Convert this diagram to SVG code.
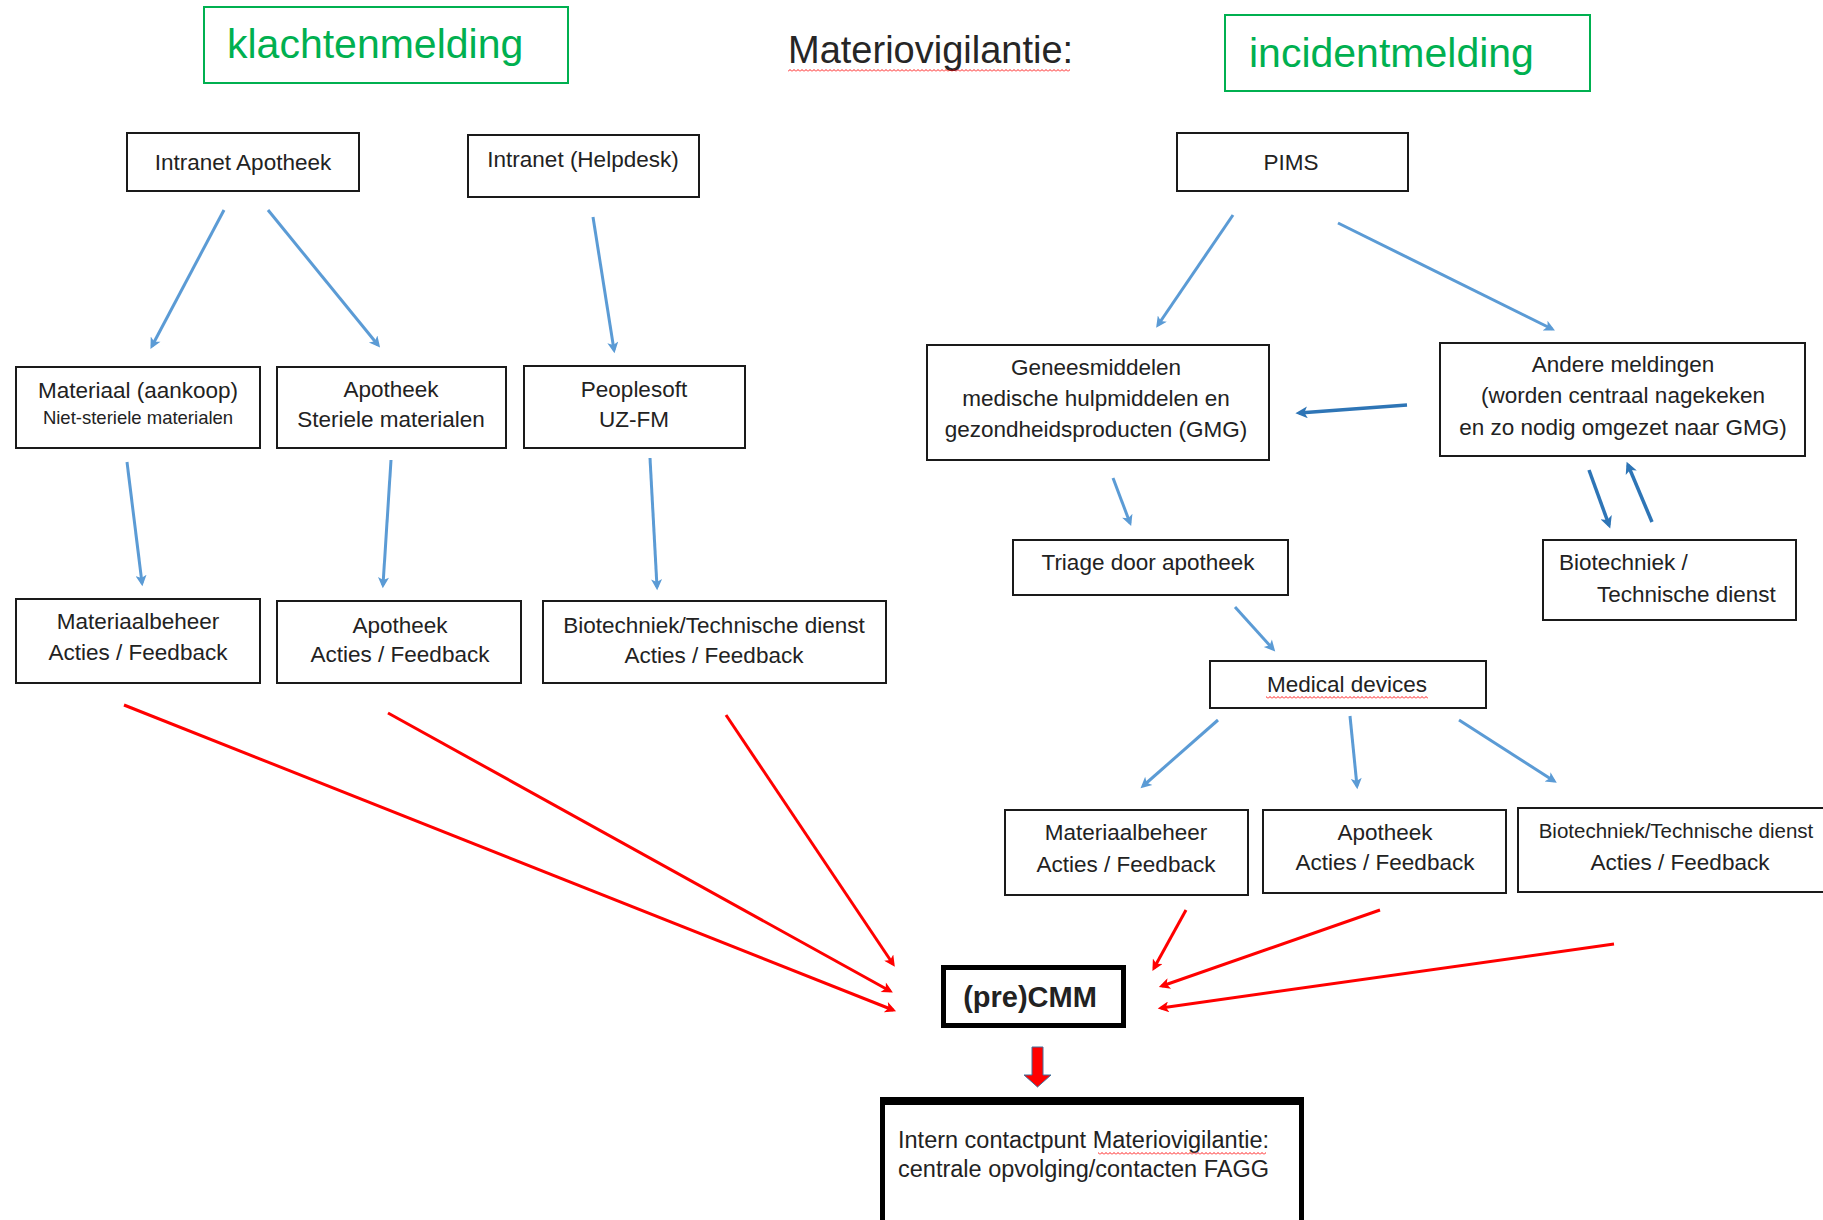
<svg xmlns="http://www.w3.org/2000/svg" width="1823" height="1220" viewBox="0 0 1823 1220">
<defs>
<style>
.box{fill:#fff;stroke:#1a1a1a;stroke-width:2}
.tag{fill:#fff;stroke:#00B050;stroke-width:2}
.t{font-family:"Liberation Sans",Arial,sans-serif;font-size:22.5px;fill:#222;text-anchor:middle}
.ts{font-size:18.5px}
.tl{text-anchor:start}
.tg{font-family:"Liberation Sans",Arial,sans-serif;font-size:41px;fill:#00B050}
.b1{fill:none;stroke:#5B9BD5;stroke-width:3}
.b2{fill:none;stroke:#2E75B6;stroke-width:3.5}
.r{fill:none;stroke:#FF0000;stroke-width:3}
</style>
<marker id="ab1" viewBox="0 0 10 10" refX="7" refY="5" markerWidth="13" markerHeight="11" markerUnits="userSpaceOnUse" orient="auto"><path d="M0,0 L10,5 L0,10 L2.5,5 z" fill="#5B9BD5"/></marker>
<marker id="ab2" viewBox="0 0 10 10" refX="7" refY="5" markerWidth="14" markerHeight="12" markerUnits="userSpaceOnUse" orient="auto"><path d="M0,0 L10,5 L0,10 L2.5,5 z" fill="#2E75B6"/></marker>
<marker id="ar" viewBox="0 0 10 10" refX="7" refY="5" markerWidth="14" markerHeight="11" markerUnits="userSpaceOnUse" orient="auto"><path d="M0,0 L10,5 L0,10 L2.5,5 z" fill="#FF0000"/></marker>
<pattern id="sq" patternUnits="userSpaceOnUse" width="4" height="3"><path d="M0,2.5 L2,0.5 L4,2.5" fill="none" stroke="#FF0000" stroke-width="0.9"/></pattern>
</defs>
<rect width="1823" height="1220" fill="#fff"/>

<g id="title">
<text x="788" y="63" font-family="Liberation Sans,Arial,sans-serif" font-size="38" fill="#262626">Materiovigilantie:</text>
<rect x="788" y="69" width="282" height="3" fill="url(#sq)"/>
</g>
<g id="klachtenmelding"><rect class="tag" x="204" y="7" width="364" height="76"/><text class="tg" x="227" y="58">klachtenmelding</text></g>
<g id="incidentmelding"><rect class="tag" x="1225" y="15" width="365" height="76"/><text class="tg" x="1249" y="67">incidentmelding</text></g>

<g id="connectors">
<line class="b1" x1="224" y1="210" x2="152" y2="346" marker-end="url(#ab1)"/>
<line class="b1" x1="268" y1="210" x2="378" y2="345" marker-end="url(#ab1)"/>
<line class="b1" x1="593" y1="217" x2="614" y2="350" marker-end="url(#ab1)"/>
<line class="b1" x1="127" y1="462" x2="142" y2="583" marker-end="url(#ab1)"/>
<line class="b1" x1="391" y1="460" x2="383" y2="585" marker-end="url(#ab1)"/>
<line class="b1" x1="650" y1="458" x2="657" y2="587" marker-end="url(#ab1)"/>
<line class="b1" x1="1233" y1="215" x2="1158" y2="325" marker-end="url(#ab1)"/>
<line class="b1" x1="1338" y1="223" x2="1552" y2="329" marker-end="url(#ab1)"/>
<line class="b2" x1="1407" y1="405" x2="1299" y2="413" marker-end="url(#ab2)"/>
<line class="b1" x1="1113" y1="478" x2="1130" y2="523" marker-end="url(#ab1)"/>
<line class="b2" x1="1589" y1="470" x2="1609" y2="525" marker-end="url(#ab2)"/>
<line class="b2" x1="1652" y1="522" x2="1628" y2="465" marker-end="url(#ab2)"/>
<line class="b1" x1="1235" y1="607" x2="1273" y2="649" marker-end="url(#ab1)"/>
<line class="b1" x1="1218" y1="720" x2="1143" y2="786" marker-end="url(#ab1)"/>
<line class="b1" x1="1350" y1="716" x2="1357" y2="786" marker-end="url(#ab1)"/>
<line class="b1" x1="1459" y1="720" x2="1554" y2="781" marker-end="url(#ab1)"/>
<line class="r" x1="124" y1="705" x2="893" y2="1010" marker-end="url(#ar)"/>
<line class="r" x1="388" y1="713" x2="890" y2="991" marker-end="url(#ar)"/>
<line class="r" x1="726" y1="715" x2="893" y2="964" marker-end="url(#ar)"/>
<line class="r" x1="1186" y1="910" x2="1154" y2="968" marker-end="url(#ar)"/>
<line class="r" x1="1380" y1="910" x2="1162" y2="986" marker-end="url(#ar)"/>
<line class="r" x1="1614" y1="944" x2="1161" y2="1008" marker-end="url(#ar)"/>
<polygon points="1032,1047 1043,1047 1043,1075 1051,1075 1037.5,1087 1024,1075 1032,1075" fill="#FF0000" stroke="#41719C" stroke-width="1"/>
</g>

<g id="intranet-apotheek"><rect class="box" x="127" y="133" width="232" height="58"/><text class="t" x="243" y="170">Intranet Apotheek</text></g>
<g id="intranet-helpdesk"><rect class="box" x="468" y="135" width="231" height="62"/><text class="t" x="583" y="167">Intranet (Helpdesk)</text></g>
<g id="materiaal-aankoop"><rect class="box" x="16" y="367" width="244" height="81"/><text class="t" x="138" y="398">Materiaal (aankoop)</text><text class="t ts" x="138" y="424">Niet-steriele materialen</text></g>
<g id="apotheek-steriel"><rect class="box" x="277" y="367" width="229" height="81"/><text class="t" x="391" y="397">Apotheek</text><text class="t" x="391" y="427">Steriele materialen</text></g>
<g id="peoplesoft"><rect class="box" x="524" y="366" width="221" height="82"/><text class="t" x="634" y="397">Peoplesoft</text><text class="t" x="634" y="427">UZ-FM</text></g>
<g id="materiaalbeheer-l"><rect class="box" x="16" y="599" width="244" height="84"/><text class="t" x="138" y="629">Materiaalbeheer</text><text class="t" x="138" y="660">Acties / Feedback</text></g>
<g id="apotheek-l"><rect class="box" x="277" y="601" width="244" height="82"/><text class="t" x="400" y="633">Apotheek</text><text class="t" x="400" y="662">Acties / Feedback</text></g>
<g id="biotechniek-l"><rect class="box" x="543" y="601" width="343" height="82"/><text class="t" x="714" y="633">Biotechniek/Technische dienst</text><text class="t" x="714" y="663">Acties / Feedback</text></g>

<g id="pims"><rect class="box" x="1177" y="133" width="231" height="58"/><text class="t" x="1291" y="170">PIMS</text></g>
<g id="gmg"><rect class="box" x="927" y="345" width="342" height="115"/><text class="t" x="1096" y="375">Geneesmiddelen</text><text class="t" x="1096" y="406">medische hulpmiddelen en</text><text class="t" x="1096" y="437">gezondheidsproducten (GMG)</text></g>
<g id="andere"><rect class="box" x="1440" y="343" width="365" height="113"/><text class="t" x="1623" y="372">Andere meldingen</text><text class="t" x="1623" y="403">(worden centraal nagekeken</text><text class="t" x="1623" y="435">en zo nodig omgezet naar GMG)</text></g>
<g id="triage"><rect class="box" x="1013" y="540" width="275" height="55"/><text class="t" x="1148" y="570">Triage door apotheek</text></g>
<g id="biotechniek-r"><rect class="box" x="1543" y="540" width="253" height="80"/><text class="t tl" x="1559" y="570">Biotechniek /</text><text class="t tl" x="1597" y="602">Technische dienst</text></g>
<g id="medical"><rect class="box" x="1210" y="661" width="276" height="47"/><text class="t" x="1347" y="692">Medical devices</text><rect x="1266" y="696" width="162" height="3" fill="url(#sq)"/></g>
<g id="materiaalbeheer-r"><rect class="box" x="1005" y="810" width="243" height="85"/><text class="t" x="1126" y="840">Materiaalbeheer</text><text class="t" x="1126" y="872">Acties / Feedback</text></g>
<g id="apotheek-r"><rect class="box" x="1263" y="810" width="243" height="83"/><text class="t" x="1385" y="840">Apotheek</text><text class="t" x="1385" y="870">Acties / Feedback</text></g>
<g id="biotechniek-r2"><rect class="box" x="1518" y="808" width="320" height="84"/><text class="t" x="1676" y="838" style="font-size:20.5px">Biotechniek/Technische dienst</text><text class="t" x="1680" y="870">Acties / Feedback</text></g>

<g id="precmm"><rect x="943.5" y="967.5" width="180" height="58" fill="#fff" stroke="#000" stroke-width="5"/><text x="1030" y="1007" font-family="Liberation Sans,Arial,sans-serif" font-size="29" font-weight="bold" fill="#222" text-anchor="middle">(pre)CMM</text></g>
<g id="contactpunt"><rect x="882.5" y="1100" width="419" height="140" fill="#fff" stroke="#000" stroke-width="5"/><rect x="880" y="1097" width="424" height="8" fill="#000"/><text x="898" y="1148" font-family="Liberation Sans,Arial,sans-serif" font-size="23.5" fill="#222">Intern contactpunt Materiovigilantie:</text><text x="898" y="1177" font-family="Liberation Sans,Arial,sans-serif" font-size="23.5" fill="#222">centrale opvolging/contacten FAGG</text><rect x="1098" y="1152" width="168" height="3" fill="url(#sq)"/></g>
</svg>
